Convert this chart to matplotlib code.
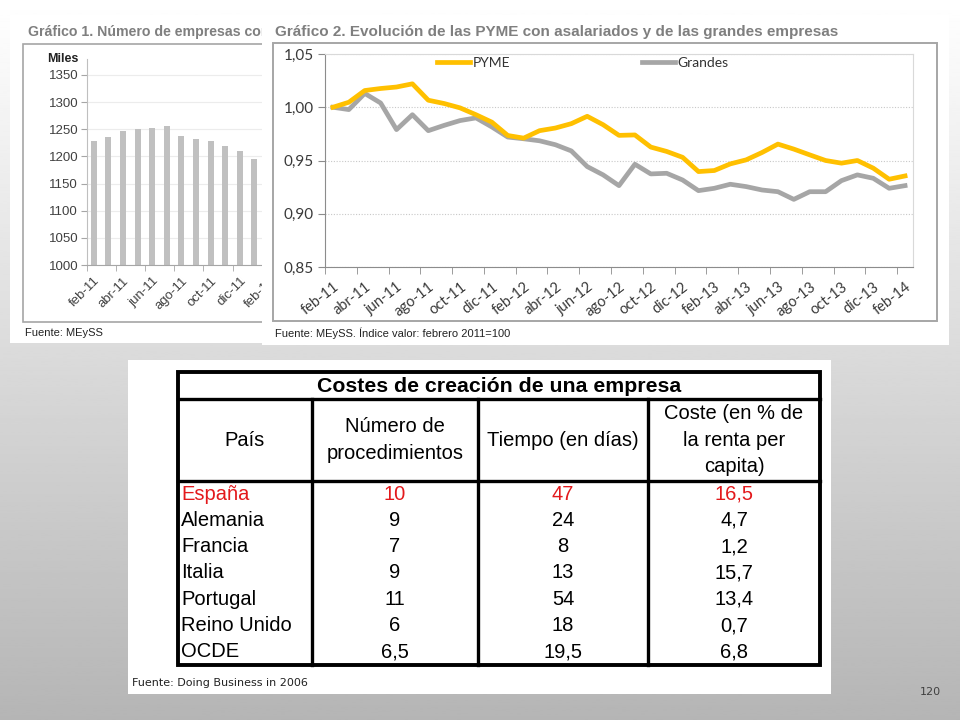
import numpy as np
import matplotlib
matplotlib.use("Agg")
import matplotlib.pyplot as plt
from matplotlib.patches import Rectangle

# ---------------- data ----------------
bar_months = ['feb-11', 'mar-11', 'abr-11', 'may-11', 'jun-11', 'jul-11', 'ago-11',
              'sep-11', 'oct-11', 'nov-11', 'dic-11', 'ene-12', 'feb-12']
bar_values = [1229, 1235, 1247, 1251, 1252, 1256, 1238, 1233, 1229, 1220, 1210, 1195]
bar_yticks = [1000, 1050, 1100, 1150, 1200, 1250, 1300, 1350]

line_months = ['feb-11', 'mar-11', 'abr-11', 'may-11', 'jun-11', 'jul-11', 'ago-11', 'sep-11',
               'oct-11', 'nov-11', 'dic-11', 'ene-12', 'feb-12', 'mar-12', 'abr-12', 'may-12',
               'jun-12', 'jul-12', 'ago-12', 'sep-12', 'oct-12', 'nov-12', 'dic-12', 'ene-13',
               'feb-13', 'mar-13', 'abr-13', 'may-13', 'jun-13', 'jul-13', 'ago-13', 'sep-13',
               'oct-13', 'nov-13', 'dic-13', 'ene-14', 'feb-14']
pyme = [1.000, 1.0047, 1.0157, 1.0176, 1.019, 1.022, 1.0066, 1.0035, 0.9994, 0.993,
        0.986, 0.9735, 0.971, 0.978, 0.9805, 0.9846, 0.9915, 0.9836, 0.9736, 0.974,
        0.9626, 0.9585, 0.953, 0.9396, 0.9406, 0.9468, 0.9506, 0.9575, 0.9654, 0.9607,
        0.9553, 0.950, 0.9475, 0.950, 0.9428, 0.9324, 0.9355]
grandes = [1.000, 0.9978, 1.013, 1.004, 0.979, 0.993, 0.978, 0.983, 0.9875, 0.990,
           0.9815, 0.972, 0.9704, 0.9685, 0.9648, 0.959, 0.9443, 0.9365, 0.9264, 0.9465,
           0.9374, 0.938, 0.9317, 0.9217, 0.9239, 0.9277, 0.9255, 0.9223, 0.9207, 0.9135,
           0.9207, 0.9207, 0.9311, 0.9365, 0.9333, 0.9239, 0.9264]
line_yticks = [0.85, 0.90, 0.95, 1.00, 1.05]

table_title = 'Costes de creación de una empresa'
table_headers = ['País', 'Número de\nprocedimientos', 'Tiempo (en días)',
                 'Coste (en % de\nla renta per\ncapita)']
paises = ['España', 'Alemania', 'Francia', 'Italia', 'Portugal', 'Reino Unido', 'OCDE']
procedimientos = ['10', '9', '7', '9', '11', '6', '6,5']
tiempo = ['47', '24', '8', '13', '54', '18', '19,5']
coste = ['16,5', '4,7', '1,2', '15,7', '13,4', '0,7', '6,8']

# ---------------- figure ----------------
W, H = 960, 720
fig = plt.figure(figsize=(W / 100, H / 100), dpi=100)

def px_axes(x0, y0, x1, y1, z, **kw):
    ax = fig.add_axes([x0 / W, 1 - y1 / H, (x1 - x0) / W, (y1 - y0) / H], **kw)
    ax.set_zorder(z)
    return ax

def panel(x0, y0, x1, y1, z):
    ax = px_axes(x0, y0, x1, y1, z)
    ax.set_xlim(x0, x1)
    ax.set_ylim(y1, y0)
    ax.set_facecolor('white')
    for s in ax.spines.values():
        s.set_visible(False)
    ax.set_xticks([])
    ax.set_yticks([])
    return ax

# background gradient
bg = px_axes(0, 0, W, H, 0)
grad = np.linspace(1.0, 0.71, 256).reshape(-1, 1)
bg.imshow(grad, cmap='gray', vmin=0, vmax=1, aspect='auto', extent=[0, 1, 0, 1])
bg.axis('off')

TITLE_C = '#7f7f7f'
SANS = ['Liberation Sans', 'DejaVu Sans']
LATO = ['Lato', 'DejaVu Sans']

# ---------- chart 1 panel ----------
p1 = panel(10, 15, 270, 343, 1)
p1.add_patch(Rectangle((23, 44), 300, 278, fill=False, edgecolor='#a6a6a6', lw=1.2))
p1.text(28, 32, 'Gráfico 1. Número de empresas con', family=SANS, weight='bold',
        fontsize=10.2, color=TITLE_C, va='center', ha='left')
p1.text(25, 333, 'Fuente: MEySS', family=SANS, fontsize=8, color='#222222', va='center')

a1 = px_axes(86.5, 58.7, 86.5 + 14.6 * 14, 265, 2)
a1.set_facecolor('none')
a1.bar(np.arange(len(bar_values)), bar_values, width=0.42, color='#c0c0c0', zorder=2)
a1.set_xlim(-0.5, 13.5)
a1.set_ylim(1000, 1380)
a1.set_yticks(bar_yticks)
a1.set_yticklabels([str(v) for v in bar_yticks], family=SANS, fontsize=9.5, color='#404040')
a1.yaxis.grid(True, color='#ececec', lw=0.8)
a1.set_axisbelow(True)
a1.set_xticks(np.arange(0, len(bar_months), 2))
a1.set_xticklabels(bar_months[::2], rotation=45, ha='right', va='top',
                   rotation_mode='anchor', family=SANS, fontsize=9.5, color='#404040')
a1.set_xticks(np.arange(-0.5, 13, 2), minor=True)
a1.tick_params(axis='x', which='major', length=0, pad=7)
a1.tick_params(axis='x', which='minor', length=4, color='#a6a6a6')
a1.tick_params(axis='y', length=4, color='#a6a6a6', pad=2)
for s in ['top', 'right']:
    a1.spines[s].set_visible(False)
a1.spines['left'].set_color('#bfbfbf')
a1.spines['bottom'].set_color('#a6a6a6')
a1.text(-0.04, 1.0, 'Miles', transform=a1.transAxes, family=SANS, weight='bold',
        fontsize=9, ha='right', va='center', color='#222222')

# ---------- chart 2 panel ----------
p2 = panel(262, 15, 949, 345, 3)
p2.add_patch(Rectangle((273, 43), 664, 278, fill=False, edgecolor='#a6a6a6', lw=1.4))
p2.text(275, 32, 'Gráfico 2. Evolución de las PYME con asalariados y de las grandes empresas',
        family=SANS, weight='bold', fontsize=11, color=TITLE_C, va='center', ha='left')
p2.text(275, 333, 'Fuente: MEySS. Índice valor: febrero 2011=100', family=SANS,
        fontsize=8, color='#222222', va='center')

a2 = px_axes(325, 54, 913, 267, 4)
a2.set_facecolor('white')
x = np.arange(len(line_months))
a2.plot(x, pyme, color='#FFC000', lw=3.4, solid_joinstyle='round', label='PYME', zorder=3)
a2.plot(x, grandes, color='#A6A6A6', lw=3.4, solid_joinstyle='round', label='Grandes', zorder=2)
a2.set_xlim(-0.5, len(line_months) - 0.5)
a2.set_ylim(0.85, 1.05)
a2.set_yticks(line_yticks)
a2.set_yticklabels([f'{v:.2f}'.replace('.', ',') for v in line_yticks], family=LATO,
                   fontsize=11, color='#3a3a3a')
a2.yaxis.grid(True, color='#c8c8c8', lw=0.8, ls=(0, (1, 1.5)))
a2.set_axisbelow(True)
a2.set_xticks(np.arange(0, len(line_months), 2))
a2.set_xticklabels(line_months[::2], rotation=38, ha='right', va='top',
                   rotation_mode='anchor', family=LATO, fontsize=10.5, color='#3a3a3a')
a2.set_xticks(np.arange(-0.5, len(line_months) - 1, 2), minor=True)
a2.tick_params(axis='x', which='major', length=0, pad=9)
a2.tick_params(axis='x', which='minor', length=5, color='#8c8c8c')
a2.tick_params(axis='y', length=5, color='#8c8c8c', pad=3)
a2.spines['top'].set_color('#d9d9d9')
a2.spines['right'].set_color('#d9d9d9')
a2.spines['left'].set_color('#8c8c8c')
a2.spines['bottom'].set_color('#8c8c8c')
leg = a2.legend(loc='center left', bbox_to_anchor=(437 / W, 1 - 63 / H),
                bbox_transform=fig.transFigure, ncol=2, frameon=False, borderpad=0,
                borderaxespad=0, handlelength=2.4, handletextpad=0.15, columnspacing=9.5,
                prop={'family': LATO, 'size': 10})
for t in leg.get_texts():
    t.set_color('#333333')

# ---------- table panel ----------
tp = panel(128, 360, 831, 694, 1)
tp.text(132, 683, 'Fuente: Doing Business in 2006', family=['DejaVu Sans'], fontsize=8,
        color='#222222', va='center')

T_X0, T_Y0, T_X1, T_Y1 = 178, 372, 820, 665
col_edges = [178, 312, 478, 648, 820]
title_bottom = 399
header_bottom = 481
row_h = (T_Y1 - header_bottom) / len(paises)
LW = 2.4
tp.add_patch(Rectangle((T_X0, T_Y0), T_X1 - T_X0, T_Y1 - T_Y0, fill=False,
                       edgecolor='black', lw=2.8, zorder=3))
tp.plot([T_X0, T_X1], [title_bottom, title_bottom], color='black', lw=LW)
tp.plot([T_X0, T_X1], [header_bottom, header_bottom], color='black', lw=LW)
for cx in col_edges[1:-1]:
    tp.plot([cx, cx], [title_bottom, T_Y1], color='black', lw=LW)

tp.text((T_X0 + T_X1) / 2, (T_Y0 + title_bottom) / 2 + 1, table_title, family=SANS,
        weight='bold', fontsize=15.3, ha='center', va='center')
for j, htxt in enumerate(table_headers):
    cxm = (col_edges[j] + col_edges[j + 1]) / 2
    tp.text(cxm, (title_bottom + header_bottom) / 2, htxt, family=SANS, fontsize=14.5,
            ha='center', va='center', linespacing=1.5, multialignment='center')

for i in range(len(paises)):
    yc = header_bottom + row_h * (i + 0.5)
    col = '#e3191c' if i == 0 else 'black'
    tp.text(col_edges[0] + 3, yc, paises[i], family=SANS, fontsize=14.5, ha='left',
            va='center', color=col)
    for j, vals in enumerate([procedimientos, tiempo, coste], start=1):
        cxm = (col_edges[j] + col_edges[j + 1]) / 2
        tp.text(cxm, yc, vals[i], family=SANS, fontsize=14.5, ha='center', va='center',
                color=col)

fig.text(930 / W, 1 - 692 / H, '120', family=['DejaVu Sans'], fontsize=8, color='#404040',
         ha='center', va='center')

fig.savefig('out.png', dpi=100)
